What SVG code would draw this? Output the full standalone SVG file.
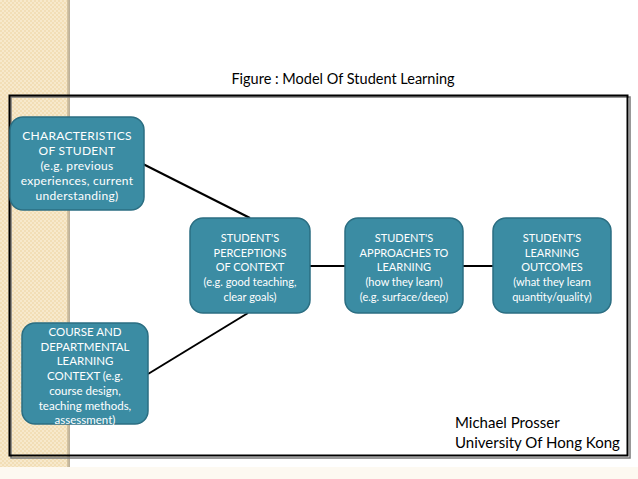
<svg xmlns="http://www.w3.org/2000/svg" width="638" height="479" viewBox="0 0 638 479">
<defs>
<pattern id="dots" width="4" height="4" patternUnits="userSpaceOnUse">
<rect width="4" height="4" fill="#f2deb6"/>
<rect x="0" y="0" width="2" height="2" fill="#f7e9cc"/>
<rect x="2" y="2" width="2" height="2" fill="#f7e9cc"/>
</pattern>
<linearGradient id="edge" x1="0" x2="1" y1="0" y2="0">
<stop offset="0" stop-color="#d8c7a4"/>
<stop offset="1" stop-color="#b8ad98"/>
</linearGradient>
</defs>
<style>
.box{fill:#3b8ca3;stroke:#2b6e82;stroke-width:1.5}
.t{font-family:Lato,"Open Sans",sans-serif;font-size:11px;fill:#ffffff;text-anchor:middle}
.c{stroke:#000;stroke-width:2;fill:none}
.k{font-family:Lato,"Open Sans",sans-serif;fill:#000}
</style>
<rect width="638" height="479" fill="#ffffff"/>
<rect x="0" y="0" width="68" height="479" fill="url(#dots)"/>
<rect x="67" y="0" width="3" height="479" fill="url(#edge)"/>
<rect x="0" y="467" width="638" height="12" fill="#fdf9f1"/>
<text class="k" x="343" y="84" font-size="14.5" text-anchor="middle">Figure : Model Of Student Learning</text>
<g id="frame">
<rect x="11" y="97" width="619" height="361" fill="none" stroke="#777" stroke-width="1.5"/>
<rect x="9.5" y="95.5" width="618" height="360" fill="none" stroke="#000" stroke-width="2"/>
</g>
<g id="connectors">
<line class="c" x1="143" y1="164" x2="250" y2="218"/>
<line class="c" x1="148" y1="374" x2="248" y2="313"/>
<line class="c" x1="310" y1="266" x2="345" y2="266"/>
<line class="c" x1="463" y1="266" x2="493" y2="266"/>
</g>
<g id="characteristics">
<rect class="box" x="10" y="117" width="134" height="93" rx="13"/>
<g style="font-size:12px;letter-spacing:0.3px">
<text class="t" x="77" y="140" style="font-size:12px">CHARACTERISTICS</text>
<text class="t" x="77" y="155" style="font-size:12px">OF STUDENT</text>
<text class="t" x="77" y="170" style="font-size:12px">(e.g. previous</text>
<text class="t" x="77" y="185" style="font-size:12px">experiences, current</text>
<text class="t" x="77" y="200" style="font-size:12px">understanding)</text>
</g>
</g>
<g id="course">
<rect class="box" x="22" y="323" width="126" height="101" rx="13"/>
<text class="t" x="85" y="336" style="font-size:11.5px">COURSE AND</text>
<text class="t" x="85" y="350.7" style="font-size:11.5px">DEPARTMENTAL</text>
<text class="t" x="85" y="365.4" style="font-size:11.5px">LEARNING</text>
<text class="t" x="85" y="380.1" style="font-size:11.5px">CONTEXT (e.g.</text>
<text class="t" x="85" y="394.8" style="font-size:11.5px">course design,</text>
<text class="t" x="85" y="409.5" style="font-size:11.5px">teaching methods,</text>
<text class="t" x="85" y="424.2" style="font-size:11.5px">assessment)</text>
</g>
<g id="perceptions">
<rect class="box" x="190" y="218" width="120" height="95" rx="13"/>
<text class="t" x="250" y="242">STUDENT'S</text>
<text class="t" x="250" y="256.7">PERCEPTIONS</text>
<text class="t" x="250" y="271.4">OF CONTEXT</text>
<text class="t" x="250" y="286.1">(e.g. good teaching,</text>
<text class="t" x="250" y="300.8">clear goals)</text>
</g>
<g id="approaches">
<rect class="box" x="345" y="218" width="118" height="95" rx="13"/>
<text class="t" x="404" y="242">STUDENT'S</text>
<text class="t" x="404" y="256.7">APPROACHES TO</text>
<text class="t" x="404" y="271.4">LEARNING</text>
<text class="t" x="404" y="286.1">(how they learn)</text>
<text class="t" x="404" y="300.8">(e.g. surface/deep)</text>
</g>
<g id="outcomes">
<rect class="box" x="493" y="218" width="118" height="95" rx="13"/>
<text class="t" x="552" y="242">STUDENT'S</text>
<text class="t" x="552" y="256.7">LEARNING</text>
<text class="t" x="552" y="271.4">OUTCOMES</text>
<text class="t" x="552" y="286.1">(what they learn</text>
<text class="t" x="552" y="300.8">quantity/quality)</text>
</g>
<g id="author">
<text class="k" x="455" y="428" font-size="15">Michael Prosser</text>
<text class="k" x="455" y="448" font-size="15">University Of Hong Kong</text>
</g>
</svg>
